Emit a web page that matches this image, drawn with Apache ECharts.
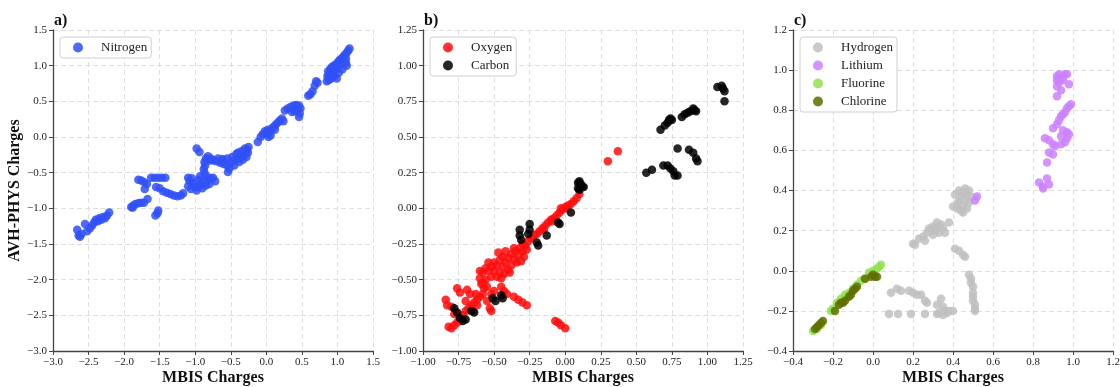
<!DOCTYPE html>
<html>
<head>
<meta charset="utf-8">
<script src="https://cdn.jsdelivr.net/npm/echarts@6/dist/echarts.min.js"></script>
<style>html,body{margin:0;padding:0;background:#fff}#c{width:1120px;height:387px}</style>
</head>
<body>
<div id="c"></div>
<script>
// ---------- data (MBIS charge, AVH-PHYS charge) ----------
const nitrogen = [
[-2.66,-1.30],[-2.64,-1.38],[-2.62,-1.40],[-2.60,-1.36],[-2.55,-1.22],[-2.52,-1.32],[-2.48,-1.28],[-2.45,-1.24],[-2.42,-1.20],[-2.40,-1.16],[-2.37,-1.18],[-2.35,-1.14],[-2.32,-1.16],[-2.30,-1.12],[-2.27,-1.14],[-2.24,-1.10],[-2.21,-1.06],
[-1.90,-0.98],[-1.88,-0.99],[-1.87,-0.96],[-1.84,-0.94],[-1.80,-0.93],[-1.76,-0.92],[-1.72,-0.92],[-1.67,-0.87],
[-1.56,-1.10],[-1.53,-1.07],[-1.52,-1.03],
[-1.80,-0.60],[-1.76,-0.61],[-1.72,-0.63],[-1.68,-0.66],[-1.71,-0.73],
[-1.62,-0.57],[-1.57,-0.57],[-1.52,-0.57],[-1.47,-0.57],[-1.42,-0.57],
[-1.55,-0.70],[-1.50,-0.72],[-1.45,-0.76],[-1.40,-0.78],[-1.35,-0.80],[-1.30,-0.82],[-1.25,-0.83],[-1.20,-0.82],[-1.17,-0.79],
[-1.10,-0.57],[-1.08,-0.62],[-1.05,-0.58],[-1.02,-0.65],[-1.00,-0.70],[-0.98,-0.75],[-0.95,-0.60],[-0.92,-0.66],[-0.90,-0.72],[-0.88,-0.62],[-0.85,-0.68],[-0.82,-0.60],[-0.78,-0.58],[-0.75,-0.57],[-0.72,-0.62],[-1.06,-0.73],[-0.96,-0.70],[-0.93,-0.55],[-0.80,-0.66],[-1.10,-0.69],
[-0.98,-0.16],[-0.94,-0.21],
[-0.82,-0.27],[-0.85,-0.30],[-0.87,-0.35],[-0.86,-0.40],[-0.88,-0.45],[-0.87,-0.50],[-0.84,-0.55],[-0.80,-0.33],[-0.78,-0.30],
[-0.75,-0.33],[-0.70,-0.34],[-0.65,-0.36],[-0.60,-0.38],[-0.55,-0.40],[-0.50,-0.36],[-0.45,-0.33],[-0.40,-0.30],[-0.35,-0.27],[-0.30,-0.24],[-0.27,-0.18],[-0.25,-0.14],[-0.30,-0.16],[-0.35,-0.20],[-0.42,-0.24],[-0.48,-0.28],[-0.55,-0.30],[-0.62,-0.31],[-0.68,-0.30],[-0.38,-0.35],[-0.28,-0.28],[-0.33,-0.32],[-0.45,-0.40],[-0.52,-0.44],[-0.54,-0.49],[-0.60,-0.33],[-0.40,-0.22],[-0.26,-0.22],
[-0.12,-0.07],[-0.08,0.00],[-0.05,0.04],[-0.02,0.08],[0.00,0.05],[0.02,0.10],[0.05,0.08],[0.08,0.12],[0.10,0.14],[0.13,0.17],[0.16,0.20],[0.19,0.23],[0.22,0.26],[0.12,0.10],[0.06,0.02],[0.03,0.00],[0.24,0.22],
[0.26,0.37],[0.30,0.40],[0.34,0.42],[0.38,0.44],[0.42,0.45],[0.46,0.44],[0.48,0.40],[0.47,0.33],[0.46,0.28],[0.40,0.36],[0.36,0.35],[0.44,0.38],
[0.59,0.58],[0.62,0.60],[0.65,0.64],[0.68,0.72],[0.70,0.78],[0.72,0.76],
[0.85,0.78],[0.86,0.85],[0.87,0.92],[0.88,0.88],[0.90,0.95],[0.91,0.82],[0.92,0.98],[0.93,0.90],[0.95,1.00],[0.96,0.86],[0.97,0.94],[0.98,1.02],[0.99,0.82],[1.00,0.97],[1.01,1.05],[1.02,0.90],[1.03,1.08],[1.05,1.02],[1.06,1.10],[1.07,0.95],[1.08,1.12],[1.10,1.15],[1.12,1.04],[1.13,1.18],[1.13,1.00],[1.15,1.21],[1.17,1.24],[1.12,1.10],[0.94,0.88],[0.88,0.80]
];
const oxygen = [
[0.10,0.10],[0.08,0.07],[0.06,0.05],[0.04,0.03],[0.02,0.02],[0.00,0.01],[-0.02,-0.01],[-0.04,-0.03],[-0.06,-0.05],[-0.08,-0.07],[-0.10,-0.08],[-0.12,-0.10],[-0.14,-0.12],[-0.16,-0.14],[-0.18,-0.16],[-0.20,-0.18],[-0.22,-0.19],[-0.24,-0.21],[0.01,0.00],[-0.03,0.00],[-0.09,-0.09],[-0.15,-0.15],
[-0.26,-0.23],[-0.28,-0.26],[-0.30,-0.25],[-0.30,-0.30],[-0.32,-0.28],[-0.33,-0.33],[-0.35,-0.30],[-0.36,-0.36],[-0.38,-0.32],[-0.38,-0.40],[-0.40,-0.35],[-0.40,-0.43],[-0.42,-0.38],[-0.42,-0.30],[-0.44,-0.41],[-0.44,-0.34],[-0.46,-0.36],[-0.46,-0.45],[-0.48,-0.40],[-0.48,-0.48],[-0.50,-0.38],[-0.50,-0.44],[-0.52,-0.41],[-0.52,-0.48],[-0.54,-0.44],[-0.54,-0.38],[-0.56,-0.42],[-0.56,-0.50],[-0.58,-0.45],[-0.60,-0.44],[-0.60,-0.49],[-0.59,-0.53],[-0.34,-0.38],[-0.36,-0.28],[-0.27,-0.29],[-0.29,-0.34],[-0.31,-0.37],[-0.45,-0.49],[-0.55,-0.55],[-0.57,-0.56],[-0.43,-0.46],[-0.39,-0.45],[-0.47,-0.31],
[-0.58,-0.60],[-0.55,-0.65],[-0.53,-0.70],[-0.52,-0.72],[-0.45,-0.55],[-0.43,-0.58],[-0.41,-0.60],[-0.60,-0.62],[-0.62,-0.64],[-0.64,-0.66],[-0.66,-0.68],[-0.68,-0.70],[-0.70,-0.72],[-0.72,-0.75],[-0.74,-0.77],[-0.76,-0.80],[-0.78,-0.82],[-0.80,-0.84],[-0.82,-0.83],[-0.84,-0.64],[-0.83,-0.68],[-0.80,-0.69],[-0.76,-0.56],[-0.74,-0.59],[-0.69,-0.57],[-0.67,-0.60],[-0.63,-0.60],[-0.58,-0.52],[-0.62,-0.68],[-0.70,-0.65],[-0.65,-0.72],[-0.78,-0.74],[-0.52,-0.60],[-0.50,-0.58],
[-0.36,-0.62],[-0.33,-0.64],[-0.30,-0.66],[-0.27,-0.68],
[-0.07,-0.79],[-0.05,-0.80],[-0.03,-0.82],[0.00,-0.84],
[0.30,0.33],[0.37,0.40]
];
const carbon = [
[1.07,0.85],[1.10,0.86],[1.11,0.84],[1.12,0.82],[1.12,0.75],
[0.67,0.55],[0.70,0.58],[0.72,0.60],[0.73,0.62],[0.74,0.63],[0.75,0.62],
[0.82,0.64],[0.84,0.66],[0.86,0.67],[0.88,0.68],[0.90,0.70],[0.91,0.69],[0.92,0.68],
[0.79,0.42],[0.87,0.41],[0.90,0.39],[0.92,0.35],[0.93,0.33],
[0.57,0.25],[0.61,0.27],[0.69,0.30],[0.72,0.30],[0.74,0.28],[0.76,0.26],[0.77,0.23],[0.79,0.23],
[0.09,0.18],[0.10,0.19],[0.11,0.17],[0.12,0.15],[0.13,0.15],[0.09,0.14],[0.10,0.13],
[0.04,-0.03],[-0.04,-0.11],[-0.05,-0.10],
[-0.32,-0.15],[-0.32,-0.19],[-0.31,-0.22],[-0.25,-0.11],[-0.25,-0.15],[-0.26,-0.18],
[-0.20,-0.24],[-0.19,-0.26],[-0.13,-0.19],
[-0.51,-0.63],[-0.49,-0.65],[-0.45,-0.61],[-0.44,-0.63],
[-0.78,-0.70],[-0.76,-0.73],[-0.74,-0.77],[-0.72,-0.79],[-0.70,-0.78],[-0.66,-0.72],[-0.64,-0.73]
];
const hydrogen = [
[0.41,0.38],[0.42,0.33],[0.43,0.40],[0.43,0.35],[0.44,0.30],[0.44,0.37],[0.45,0.32],[0.45,0.39],[0.46,0.41],[0.46,0.35],[0.47,0.31],[0.47,0.38],[0.48,0.40],[0.48,0.34],[0.42,0.31],[0.40,0.32],[0.49,0.37],[0.45,0.29],
[0.20,0.135],[0.21,0.13],[0.23,0.16],[0.25,0.17],[0.27,0.19],[0.28,0.21],[0.29,0.20],[0.30,0.22],[0.31,0.20],[0.32,0.22],[0.33,0.19],[0.34,0.23],[0.35,0.21],[0.36,0.19],[0.38,0.24],[0.30,0.18],[0.26,0.15],[0.32,0.24],
[0.41,0.11],[0.43,0.10],[0.45,0.08],[0.46,0.07],
[0.48,-0.02],[0.49,-0.04],[0.49,-0.06],[0.50,-0.08],[0.50,-0.11],[0.50,-0.13],[0.50,-0.15],[0.51,-0.17],[0.51,-0.19],[0.51,-0.20],
[0.09,-0.11],[0.12,-0.09],[0.14,-0.10],[0.18,-0.10],[0.20,-0.11],[0.22,-0.12],[0.24,-0.12],[0.26,-0.15],[0.27,-0.16],
[0.32,-0.17],[0.34,-0.14],[0.35,-0.18],[0.36,-0.20],[0.38,-0.20],[0.40,-0.20],[0.33,-0.21],[0.35,-0.22],[0.37,-0.21],
[0.08,-0.215],[0.125,-0.215],[0.19,-0.215],[0.26,-0.215],[0.32,-0.215]
];
const lithium = [
[0.92,0.97],[0.93,0.98],[0.94,0.96],[0.95,0.97],[0.96,0.98],[0.97,0.98],[0.92,0.95],[0.93,0.94],[0.95,0.95],[0.92,0.92],[0.98,0.93],[0.94,0.90],[0.92,0.87],
[0.90,0.71],[0.92,0.73],[0.93,0.75],[0.94,0.77],[0.95,0.78],[0.96,0.79],[0.97,0.81],[0.98,0.82],[0.99,0.83],
[0.95,0.70],[0.97,0.69],[0.98,0.68],[0.97,0.66],[0.96,0.64],[0.94,0.67],
[0.86,0.66],[0.88,0.65],[0.90,0.63],[0.91,0.62],[0.94,0.63],[0.88,0.59],[0.90,0.58],[0.87,0.54],
[0.83,0.44],[0.85,0.42],[0.87,0.46],[0.88,0.43],[0.85,0.41],
[0.52,0.37],[0.51,0.35]
];
const fluorine = [
[-0.30,-0.30],[-0.28,-0.29],[-0.26,-0.27],[-0.21,-0.20],[-0.20,-0.19],[-0.18,-0.16],[-0.16,-0.14],[-0.14,-0.12],[-0.13,-0.13],[-0.12,-0.11],[-0.10,-0.09],[-0.08,-0.07],[-0.06,-0.05],[-0.04,-0.04],[-0.02,-0.01],[0.00,0.00],[0.02,0.01],[0.03,0.02],[0.04,0.03]
];
const chlorine = [
[-0.29,-0.29],[-0.28,-0.28],[-0.27,-0.27],[-0.26,-0.26],[-0.25,-0.25],[-0.19,-0.20],[-0.17,-0.17],[-0.16,-0.16],[-0.15,-0.16],[-0.14,-0.15],[-0.12,-0.13],[-0.11,-0.12],[-0.10,-0.10],[-0.09,-0.09],[-0.08,-0.08],[-0.04,-0.04],[-0.01,-0.03],[0.01,-0.03],[0.00,-0.02],[0.02,-0.03]
];
const panelLabels = ['a)', 'b)', 'c)'];
const axisRanges = [[-3.0, 1.5, 0.5, 1], [-1.0, 1.25, 0.25, 2], [-0.4, 1.2, 0.2, 1]]; // min, max, interval, decimals

// ---------- chart ----------
const FONT = 'Liberation Serif, Times New Roman, serif';
const lefts = [53, 423, 793];
const fmt = d => v => (v < 0 ? '\u2212' : '') + Math.abs(v).toFixed(d);
const grids = lefts.map(l => ({ left: l, top: 30, width: 320, height: 321, containLabel: false, outerBoundsMode: 'none' }));
function mkAxis(i, isY) {
  const r = axisRanges[i];
  const a = {
    gridIndex: i, type: 'value', min: r[0], max: r[1], interval: r[2],
    axisLine: { show: true, onZero: false, lineStyle: { color: '#444', width: 1.3 } },
    axisTick: { show: true, inside: false, length: 4, lineStyle: { color: '#444' } },
    axisLabel: { formatter: fmt(r[3]), fontFamily: FONT, fontSize: 11, color: '#222', margin: 6, showMinLabel: true, showMaxLabel: true },
    splitLine: { show: true, showMinLine: true, showMaxLine: true, lineStyle: { color: '#dedede', type: [5, 3], width: 1 } },
    nameMoveOverlap: false
  };
  if (!isY) {
    a.name = 'MBIS Charges'; a.nameLocation = 'middle'; a.nameGap = 19;
    a.nameTextStyle = { fontFamily: FONT, fontSize: 16, fontWeight: 'bold', color: '#111' };
  } else if (i === 0) {
    a.name = 'AVH-PHYS Charges'; a.nameLocation = 'middle'; a.nameGap = 30; a.nameRotate = 90;
    a.nameTextStyle = { fontFamily: FONT, fontSize: 16, fontWeight: 'bold', color: '#111' };
  }
  return a;
}
function sc(name, data, idx, color) {
  return { name, type: 'scatter', data, xAxisIndex: idx, yAxisIndex: idx, symbolSize: 8.5,
    itemStyle: { color, opacity: 0.85 }, emphasis: { disabled: true }, animation: false };
}
const legendBase = { top: 37, orient: 'vertical', icon: 'circle', itemWidth: 10, itemHeight: 10, itemGap: 5,
  padding: [4, 4, 4, 13], borderColor: '#cfcfcf', borderWidth: 1, borderRadius: 3, backgroundColor: '#fff',
  textStyle: { fontFamily: FONT, fontSize: 13, color: '#222', padding: [0, 0, 0, 13] }, selectedMode: false };
const option = {
  backgroundColor: '#fff',
  animation: false,
  title: panelLabels.map((t, i) => ({ text: t, left: lefts[i] + 1, top: 13, textStyle: { fontFamily: FONT, fontSize: 16, fontWeight: 'bold', color: '#111' }, padding: 0 })),
  grid: grids,
  xAxis: [0, 1, 2].map(i => mkAxis(i, false)),
  yAxis: [0, 1, 2].map(i => mkAxis(i, true)),
  legend: [
    Object.assign({}, legendBase, { left: 60, data: ['Nitrogen'] }),
    Object.assign({}, legendBase, { left: 430, data: ['Oxygen', 'Carbon'] }),
    Object.assign({}, legendBase, { left: 800, data: ['Hydrogen', 'Lithium', 'Fluorine', 'Chlorine'] })
  ],
  series: [
    sc('Nitrogen', nitrogen, 0, '#3050F8'),
    sc('Oxygen', oxygen, 1, '#FF0D0D'),
    sc('Carbon', carbon, 1, '#000000'),
    sc('Hydrogen', hydrogen, 2, '#BFBFBF'),
    sc('Lithium', lithium, 2, '#CC80FF'),
    sc('Fluorine', fluorine, 2, '#90E050'),
    sc('Chlorine', chlorine, 2, '#5F6E00')
  ]
};
const chart = echarts.init(document.getElementById('c'), null, { renderer: 'canvas' });
chart.setOption(option);
</script>
</body>
</html>
